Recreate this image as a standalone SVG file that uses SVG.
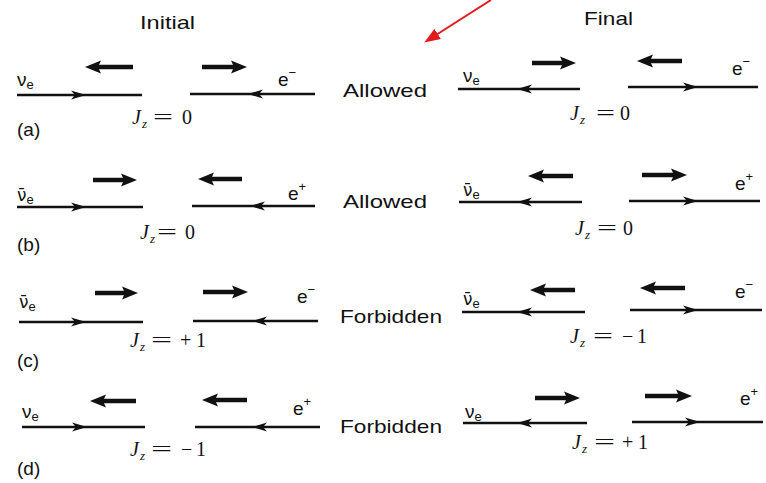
<svg xmlns="http://www.w3.org/2000/svg" xmlns:xlink="http://www.w3.org/1999/xlink" width="766" height="483" viewBox="0 0 766 483">
<style>
.s{font-family:"Liberation Sans",Arial,sans-serif;fill:#111}
.h{font-size:19px}
.lab{font-size:19px}
.p{font-size:19px}
.nb{font-family:"DejaVu Sans",sans-serif;font-size:17px}
.sb{font-size:13px}
.j{font-family:"Liberation Serif","Times New Roman",serif;font-size:20px;fill:#111}
.it{font-style:italic}
.zs{font-size:13px;font-style:italic}
.ln{stroke:#111;stroke-width:2.4;fill:none}
.sp{stroke:#111;stroke-width:4.5;fill:none;marker-end:url(#sh)}
.hd{fill:#111}
</style>
<defs>
<marker id="sh" viewBox="-4 -8 18 16" markerWidth="18" markerHeight="16" refX="0" refY="0" orient="auto" markerUnits="userSpaceOnUse">
<path d="M-3,-6.5 L13,0 L-3,6.5 L0,0 Z" fill="#111"/>
</marker>
<marker id="rh" viewBox="-2 -7 18 14" markerWidth="18" markerHeight="14" refX="0" refY="0" orient="auto" markerUnits="userSpaceOnUse">
<path d="M-2,-6 L14,0 L-2,6 Z" fill="#e41a1c"/>
</marker>
<path id="hr" d="M0,0 L-15,-4.5 L-11,0 L-15,4.5 Z"/>
<path id="hl" d="M0,0 L15,-4.5 L11,0 L15,4.5 Z"/>
</defs>
<rect width="766" height="483" fill="#fff"/>

<g id="headings">
<text class="s h" x="140" y="29" textLength="55" lengthAdjust="spacingAndGlyphs">Initial</text>
<text class="s h" x="584" y="25" textLength="49" lengthAdjust="spacingAndGlyphs">Final</text>
</g>

<g id="connectors">
<line x1="491" y1="0" x2="436" y2="35" stroke="#e41a1c" stroke-width="2" marker-end="url(#rh)"/>
</g>

<!-- Row a -->
<g id="row-a-initial">
<line class="ln" x1="17" y1="95" x2="142" y2="95"/><use href="#hr" class="hd" x="86" y="95"/>
<line class="ln" x1="190" y1="94" x2="315" y2="94"/><use href="#hl" class="hd" x="248" y="94"/>
<line class="sp" x1="133" y1="67" x2="98" y2="67"/>
<line class="sp" x1="202" y1="67" x2="234" y2="67"/>
<text class="s p" x="17" y="86">ν<tspan class="sb" dy="3">e</tspan></text>
<text class="s p" x="278" y="86">e<tspan class="sb" dy="-9">−</tspan></text>
<text class="j" y="124"><tspan class="it" x="132">J</tspan><tspan class="zs" x="142" dy="4">z</tspan><tspan x="153" dy="-4" textLength="20" lengthAdjust="spacingAndGlyphs">=</tspan><tspan x="182">0</tspan></text>
<text class="s lab" x="17" y="136">(a)</text>
</g>
<text id="label-a" class="s lab" x="343" y="97" textLength="84" lengthAdjust="spacingAndGlyphs">Allowed</text>
<g id="row-a-final">
<line class="ln" x1="458" y1="89" x2="580" y2="89"/><use href="#hl" class="hd" x="517" y="89"/>
<line class="ln" x1="628" y1="87" x2="758" y2="87"/><use href="#hr" class="hd" x="698" y="87"/>
<line class="sp" x1="532" y1="63" x2="563" y2="63"/>
<line class="sp" x1="682" y1="61" x2="650" y2="61"/>
<text class="s p" x="463" y="82">ν<tspan class="sb" dy="3">e</tspan></text>
<text class="s p" x="732" y="75">e<tspan class="sb" dy="-9">−</tspan></text>
<text class="j" y="120"><tspan class="it" x="570">J</tspan><tspan class="zs" x="580" dy="4">z</tspan><tspan x="596" dy="-4" textLength="19" lengthAdjust="spacingAndGlyphs">=</tspan><tspan x="620">0</tspan></text>
</g>

<!-- Row b -->
<g id="row-b-initial">
<line class="ln" x1="17" y1="207" x2="143" y2="207"/><use href="#hr" class="hd" x="86" y="207"/>
<line class="ln" x1="192" y1="206" x2="315" y2="206"/><use href="#hl" class="hd" x="250" y="206"/>
<line class="sp" x1="93" y1="180" x2="124" y2="180"/>
<line class="sp" x1="242" y1="179" x2="211" y2="179"/>
<text class="s p" x="17" y="201"><tspan class="nb">ν̄</tspan><tspan class="sb" dy="3">e</tspan></text>
<text class="s p" x="288" y="200">e<tspan class="sb" dy="-9">+</tspan></text>
<text class="j" y="239"><tspan class="it" x="140">J</tspan><tspan class="zs" x="150" dy="4">z</tspan><tspan x="157" dy="-4" textLength="20" lengthAdjust="spacingAndGlyphs">=</tspan><tspan x="185">0</tspan></text>
<text class="s lab" x="17" y="251">(b)</text>
</g>
<text id="label-b" class="s lab" x="343" y="208" textLength="84" lengthAdjust="spacingAndGlyphs">Allowed</text>
<g id="row-b-final">
<line class="ln" x1="459" y1="202" x2="582" y2="202"/><use href="#hl" class="hd" x="517" y="202"/>
<line class="ln" x1="629" y1="201" x2="760" y2="201"/><use href="#hr" class="hd" x="698" y="201"/>
<line class="sp" x1="573" y1="176" x2="541" y2="176"/>
<line class="sp" x1="642" y1="175" x2="674" y2="175"/>
<text class="s p" x="463" y="196"><tspan class="nb">ν̄</tspan><tspan class="sb" dy="3">e</tspan></text>
<text class="s p" x="735" y="190">e<tspan class="sb" dy="-9">+</tspan></text>
<text class="j" y="235"><tspan class="it" x="575">J</tspan><tspan class="zs" x="585" dy="4">z</tspan><tspan x="597" dy="-4" textLength="20" lengthAdjust="spacingAndGlyphs">=</tspan><tspan x="623">0</tspan></text>
</g>

<!-- Row c -->
<g id="row-c-initial">
<line class="ln" x1="19" y1="322" x2="143" y2="322"/><use href="#hr" class="hd" x="86" y="322"/>
<line class="ln" x1="193" y1="321" x2="318" y2="321"/><use href="#hl" class="hd" x="252" y="321"/>
<line class="sp" x1="95" y1="293" x2="125" y2="293"/>
<line class="sp" x1="203" y1="292" x2="235" y2="292"/>
<text class="s p" x="19" y="308"><tspan class="nb">ν̄</tspan><tspan class="sb" dy="3">e</tspan></text>
<text class="s p" x="297" y="303">e<tspan class="sb" dy="-9">−</tspan></text>
<text class="j" y="347"><tspan class="it" x="130">J</tspan><tspan class="zs" x="140" dy="4">z</tspan><tspan x="151" dy="-4" textLength="21" lengthAdjust="spacingAndGlyphs">=</tspan><tspan x="180">+</tspan><tspan x="196">1</tspan></text>
<text class="s lab" x="17" y="367">(c)</text>
</g>
<text id="label-c" class="s lab" x="340" y="323" textLength="102" lengthAdjust="spacingAndGlyphs">Forbidden</text>
<g id="row-c-final">
<line class="ln" x1="462" y1="312" x2="585" y2="312"/><use href="#hl" class="hd" x="517" y="312"/>
<line class="ln" x1="630" y1="310" x2="762" y2="310"/><use href="#hr" class="hd" x="698" y="310"/>
<line class="sp" x1="575" y1="290" x2="543" y2="290"/>
<line class="sp" x1="685" y1="288" x2="653" y2="288"/>
<text class="s p" x="463" y="305"><tspan class="nb">ν̄</tspan><tspan class="sb" dy="3">e</tspan></text>
<text class="s p" x="735" y="298">e<tspan class="sb" dy="-9">−</tspan></text>
<text class="j" y="343"><tspan class="it" x="570">J</tspan><tspan class="zs" x="580" dy="4">z</tspan><tspan x="593" dy="-4" textLength="20" lengthAdjust="spacingAndGlyphs">=</tspan><tspan x="622">−</tspan><tspan x="637">1</tspan></text>
</g>

<!-- Row d -->
<g id="row-d-initial">
<line class="ln" x1="22" y1="427" x2="145" y2="427"/><use href="#hr" class="hd" x="87" y="427"/>
<line class="ln" x1="195" y1="427" x2="320" y2="427"/><use href="#hl" class="hd" x="252" y="427"/>
<line class="sp" x1="136" y1="401" x2="103" y2="401"/>
<line class="sp" x1="247" y1="400" x2="215" y2="400"/>
<text class="s p" x="22" y="418">ν<tspan class="sb" dy="3">e</tspan></text>
<text class="s p" x="293" y="415">e<tspan class="sb" dy="-9">+</tspan></text>
<text class="j" y="456"><tspan class="it" x="130">J</tspan><tspan class="zs" x="140" dy="4">z</tspan><tspan x="151" dy="-4" textLength="21" lengthAdjust="spacingAndGlyphs">=</tspan><tspan x="181">−</tspan><tspan x="196">1</tspan></text>
<text class="s lab" x="17" y="475">(d)</text>
</g>
<text id="label-d" class="s lab" x="340" y="433" textLength="102" lengthAdjust="spacingAndGlyphs">Forbidden</text>
<g id="row-d-final">
<line class="ln" x1="463" y1="423" x2="587" y2="423"/><use href="#hl" class="hd" x="517" y="423"/>
<line class="ln" x1="632" y1="422" x2="763" y2="422"/><use href="#hr" class="hd" x="700" y="422"/>
<line class="sp" x1="535" y1="398" x2="567" y2="398"/>
<line class="sp" x1="645" y1="396" x2="679" y2="396"/>
<text class="s p" x="465" y="418">ν<tspan class="sb" dy="3">e</tspan></text>
<text class="s p" x="740" y="405">e<tspan class="sb" dy="-9">+</tspan></text>
<text class="j" y="449"><tspan class="it" x="572">J</tspan><tspan class="zs" x="582" dy="4">z</tspan><tspan x="594" dy="-4" textLength="21" lengthAdjust="spacingAndGlyphs">=</tspan><tspan x="622">+</tspan><tspan x="638">1</tspan></text>
</g>
</svg>
